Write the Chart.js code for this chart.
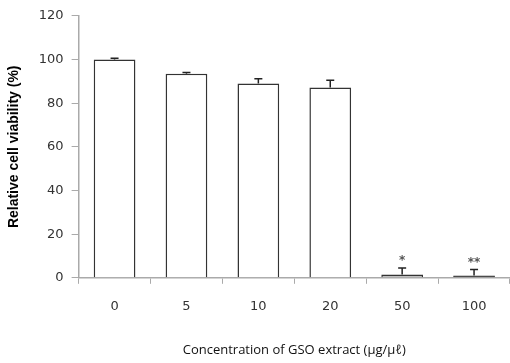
<!DOCTYPE html>
<html>
<head>
<meta charset="utf-8">
<script src="https://cdn.jsdelivr.net/npm/chart.js@4/dist/chart.umd.min.js"></script>
<style>
  html, body { margin: 0; padding: 0; background: #fff; }
  #wrap { width: 510px; height: 363px; }
</style>
</head>
<body>
<div id="wrap"><canvas id="c" width="510" height="363"></canvas></div>
<script>
// chart data
var categories = ["0", "5", "10", "20", "50", "100"];
var viability = [100, 93.5, 89, 87.2, 1.5, 1.0];
var errors = [0.6, 0.5, 2.2, 3.3, 3.0, 2.8];
var marks = ["", "", "", "", "*", "**"];
var yTicks = [0, 20, 40, 60, 80, 100, 120];

var fills = ["#ffffff", "#ffffff", "#ffffff", "#ffffff", "#bfbfbf", "#000000"];

// upward error whiskers + significance marks
var errorBars = {
    id: "errorBars",
    afterDatasetsDraw: function (chart) {
        var ctx = chart.ctx;
        var y = chart.scales.y;
        var meta = chart.getDatasetMeta(0);
        ctx.save();
        ctx.strokeStyle = "#222";
        ctx.lineWidth = 1.5;
        meta.data.forEach(function (bar, i) {
            var top = y.getPixelForValue(viability[i]);
            var hi = y.getPixelForValue(viability[i] + errors[i]);
            ctx.beginPath();
            ctx.moveTo(bar.x, top);
            ctx.lineTo(bar.x, hi);
            ctx.moveTo(bar.x - 4, hi);
            ctx.lineTo(bar.x + 4, hi);
            ctx.stroke();
            if (marks[i]) {
                ctx.fillStyle = "#555";
                ctx.font = "bold 12px 'DejaVu Sans'";
                ctx.textAlign = "center";
                ctx.textBaseline = "bottom";
                ctx.fillText(marks[i], bar.x, hi - 1);
            }
        });
        ctx.restore();
    },
};

new Chart(document.getElementById("c"), {
    type: "bar",
    data: {
        labels: categories,
        datasets: [
            {
                data: viability,
                backgroundColor: fills,
                borderColor: "#333",
                borderWidth: 1.5,
                categoryPercentage: 1,
                barPercentage: 0.58,
            },
        ],
    },
    options: {
        animation: false,
        responsive: false,
        layout: { padding: { top: 6, right: 0, left: 6, bottom: 5 } },
        plugins: { legend: { display: false }, tooltip: { enabled: false } },
        scales: {
            x: {
                grid: {
                    offset: true,
                    drawOnChartArea: false,
                    drawTicks: true,
                    tickLength: 6,
                    color: "#aaa",
                },
                border: { color: "#aaa", width: 1.5 },
                ticks: {
                    color: "#333",
                    font: { family: "'DejaVu Sans'", size: 13 },
                    padding: 15,
                },
                title: {
                    display: true,
                    text: "Concentration of GSO extract (μg/μℓ)",
                    color: "#111",
                    font: { family: "'Open Sans'", size: 13 },
                    padding: { top: 13, bottom: 0 },
                },
            },
            y: {
                min: 0,
                max: 120,
                afterBuildTicks: function (s) {
                    s.ticks = yTicks.map(function (v) { return { value: v }; });
                },
                grid: {
                    drawOnChartArea: false,
                    drawTicks: true,
                    tickLength: 7,
                    color: "#aaa",
                },
                border: { color: "#aaa", width: 1.5 },
                ticks: {
                    color: "#333",
                    font: { family: "'DejaVu Sans'", size: 13 },
                    padding: 8,
                },
                title: {
                    display: true,
                    text: "Relative cell viability (%)",
                    color: "#000",
                    font: { family: "'Liberation Sans'", size: 14, weight: "bold" },
                    padding: { top: 0, bottom: 8 },
                },
            },
        },
    },
    plugins: [errorBars],
});
</script>
</body>
</html>
